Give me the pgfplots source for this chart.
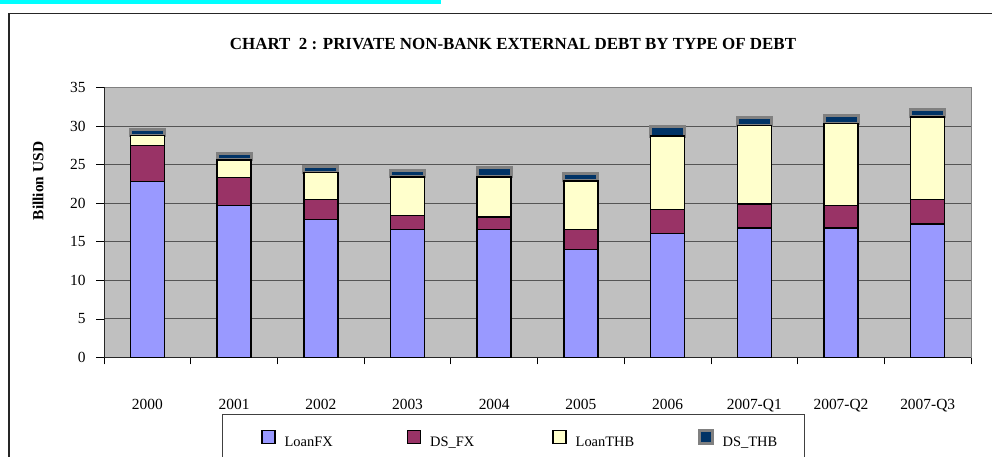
\documentclass[border=0pt]{standalone}
\usepackage{fontspec}
\setmainfont{Liberation Serif}
\usepackage{pgfplots}
\usepackage{pgfplotstable}
\pgfplotsset{compat=1.18}
\definecolor{loanfx}{HTML}{9999FF}
\definecolor{dsfx}{HTML}{993366}
\definecolor{loanthb}{HTML}{FFFFCC}
\definecolor{dsthb}{HTML}{003366}
\definecolor{plotbg}{HTML}{C0C0C0}
\definecolor{gridc}{HTML}{555555}
\definecolor{bordgray}{HTML}{808080}
\definecolor{topcyan}{HTML}{00FFFF}
\pgfplotstableread{
x LoanFX DSFX LoanTHB DSTHB
0 22.8 4.65 1.3 0.8
1 19.7 3.6 2.3 0.8
2 17.9 2.6 3.5 0.7
3 16.6 1.8 5.0 0.8
4 16.6 1.6 5.2 1.2
5 14.0 2.6 6.3 1.0
6 16.1 3.1 9.5 1.2
7 16.8 3.1 10.2 1.0
8 16.8 2.9 10.6 1.1
9 17.3 3.2 10.7 1.0
}\debtdata
\begin{document}
\begin{tikzpicture}[x=1bp,y=1bp]
\path[use as bounding box] (0,0) rectangle (992,457);
\fill[topcyan] (0,453) rectangle (441,457);
\draw[line width=1.5bp, black!85] (9,-5) -- (9,443.5) -- (1000,443.5);
\node[font=\fontsize{17}{20}\selectfont\bfseries] at (513,412.5) {CHART\ \ 2 : PRIVATE NON-BANK EXTERNAL DEBT BY TYPE OF DEBT};
\node[rotate=90, font=\fontsize{15.5}{18}\selectfont\bfseries] at (38,276) {Billion USD};
\draw[black!75, line width=1bp] (222,-5) rectangle (804,42);
\begin{axis}[
  at={(120,129)}, anchor=south west,
  scale only axis, width=867bp, height=270bp,
  xmin=-0.5, xmax=9.5, ymin=0, ymax=35,
  enlarge x limits=false,
  ybar stacked, bar width=34bp,
  axis background/.style={fill=plotbg},
  axis line style={draw=bordgray, line width=1bp},
  tick pos=left, tick align=outside,
  xtick={0,...,9},
  xticklabels={2000,2001,2002,2003,2004,2005,2006,2007-Q1,2007-Q2,2007-Q3},
  major x tick style={draw=none},
  minor xtick={-0.5,0.5,...,9.5},
  minor tick length=7bp,
  major tick length=8bp,
  tick style={black, line width=0.8bp},
  ytick={0,5,...,35},
  ymajorgrids,
  grid style={gridc, line width=1bp},
  /pgf/number format/assume math mode=true,
  ticklabel style={font=\fontsize{15.5}{18}\selectfont},
  xticklabel style={anchor=base, yshift=-44bp},
  yticklabel style={xshift=-7bp},
  legend columns=4,
  legend style={draw=none, fill=none, inner sep=0pt,
    at={(axis description cs:0.181,-0.30)}, anchor=west,
    font=\fontsize{14.5}{17}\selectfont,
    nodes={inner sep=0pt, text width=108bp, align=left},
    /tikz/every odd column/.append style={column sep=9bp},
    /tikz/every even column/.append style={column sep=14bp}},
  legend image code/.code={\draw[#1] (0bp,-1bp) rectangle (13bp,12bp);},
]
\addplot[fill=loanfx, draw=black, line width=1.5bp] table[x=x,y=LoanFX]{\debtdata};
\addplot[fill=dsfx, draw=black, line width=1.5bp] table[x=x,y=DSFX]{\debtdata};
\addplot[fill=loanthb, draw=black, line width=1.5bp] table[x=x,y=LoanTHB]{\debtdata};
\addplot[fill=dsthb, draw=bordgray, line width=3bp] table[x=x,y=DSTHB]{\debtdata};
\legend{LoanFX,DS\_FX,LoanTHB,DS\_THB}
\draw[black!85, line width=1.2bp] (rel axis cs:0,1) -- (rel axis cs:0,0) -- (rel axis cs:1,0);
\end{axis}
\end{tikzpicture}
\end{document}
